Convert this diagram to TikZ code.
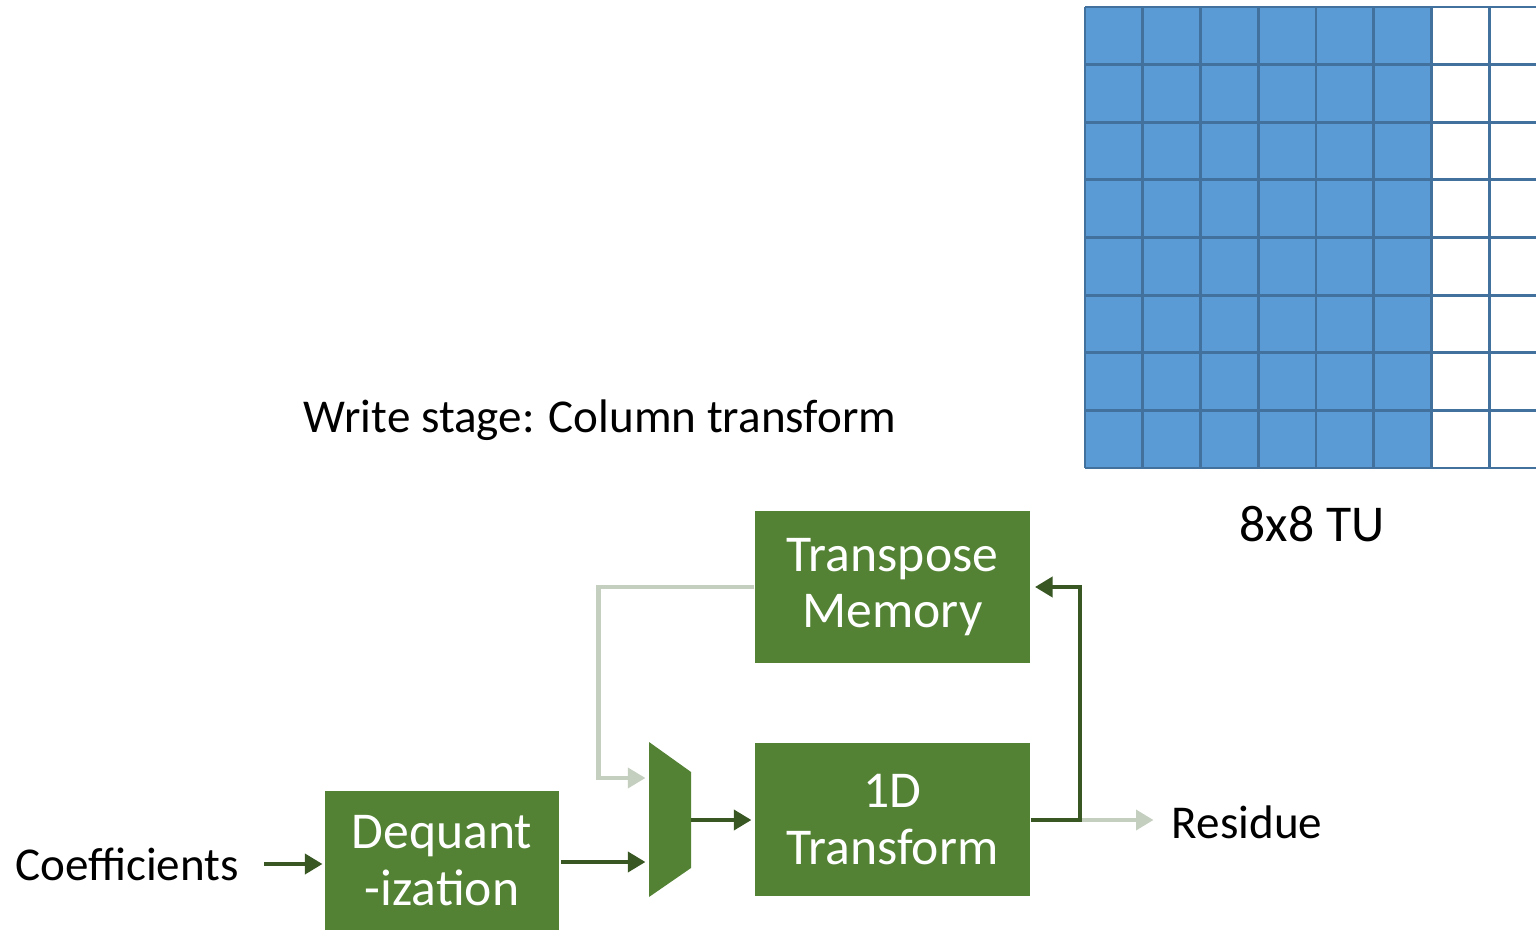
\documentclass[tikz,border=0pt]{standalone}
\usepackage{fontspec}
\setmainfont{Carlito}
\definecolor{bGreen}{HTML}{548235}
\definecolor{bDark}{HTML}{385723}
\definecolor{bPale}{HTML}{C5CFBF}
\definecolor{tFill}{HTML}{5B9BD5}
\definecolor{tLine}{HTML}{41719C}
\usetikzlibrary{arrows.meta, positioning}

\begin{document}
\begin{tikzpicture}[
  blk/.style={fill=bGreen, draw=none, text=white, align=center,
              inner sep=0pt, font=\fontsize{14.7}{16}\selectfont},
  lbl/.style={inner sep=1pt, font=\fontsize{13.4}{16}\selectfont},
  fwd/.style={bDark, line width=1.3pt, -{Triangle[length=5pt, width=5.6pt]}},
  back/.style={bPale, line width=1.3pt, -{Triangle[length=5pt, width=5.6pt]}}]
  \useasboundingbox (0,0) rectangle (15.36,-9.30);
  % 8x8 TU grid, first six columns filled
  \begin{scope}
    \clip (0,0) rectangle (15.36,-9.30);
    \fill[tFill] (10.85,-0.07) rectangle (14.32,-4.68);
    \foreach \c in {0,...,8}
      \draw[tLine, line width=0.8pt] (10.85+0.5775*\c,-0.07) -- (10.85+0.5775*\c,-4.68);
    \foreach \r in {0,...,8}
      \draw[tLine, line width=0.8pt] (10.85,-0.07-0.57625*\r) -- (15.47,-0.07-0.57625*\r);
  \end{scope}
  \node[font=\fontsize{14.7}{16}\selectfont] (tu) at (13.12,-5.24) {8x8 TU};
  \node[lbl] (stage) at (6.00,-4.20) {Write stage: Column transform};

  % blocks
  \node[blk, minimum width=2.75cm, minimum height=1.52cm] (tm) at (8.925,-5.87) {Transpose\\Memory};
  \node[blk, minimum width=2.75cm, minimum height=1.53cm] (tf) at (8.925,-8.195) {1D\\Transform};
  \node[blk, minimum width=2.34cm, minimum height=1.39cm] (dq) at (4.42,-8.605) {Dequant\\-ization};
  \node[lbl] (coef) at (1.27,-8.64) {Coefficients};
  \node[lbl] (res) at (12.47,-8.22) {Residue};

  % mux
  \fill[bGreen] (6.49,-7.42) -- (6.91,-7.72) -- (6.91,-8.68) -- (6.49,-8.97) -- cycle;
  \coordinate (muxa) at (6.49,-7.78);
  \coordinate (muxb) at (6.49,-8.62);
  \coordinate (muxo) at (6.91,-8.20);
  \coordinate (split) at (10.80,-8.20);

  % connectors
  \draw[fwd, shorten <=6pt, shorten >=0.5pt] (coef.east) -- (dq.west |- coef.east);
  \draw[fwd, shorten <=0.5pt, shorten >=1pt] (dq.east |- muxb) -- (muxb);
  \draw[fwd, shorten >=0.8pt] (muxo) -- (tf.west |- muxo);
  \draw[back, shorten >=1pt] (tm.west) -- ++(-1.56,0) |- (muxa);
  \draw[back, shorten >=4pt] (split) -- (res.west |- split);
  \draw[fwd, shorten >=1.2pt] (tf.east |- split) -- (split) |- (tm.east);
\end{tikzpicture}
\end{document}
